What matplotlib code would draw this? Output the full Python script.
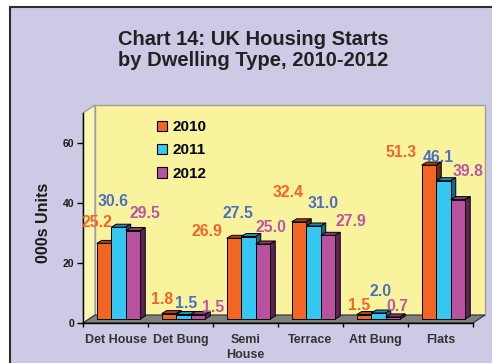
import matplotlib
matplotlib.use("Agg")
import matplotlib.pyplot as plt
from matplotlib.patches import Rectangle, Polygon, Patch
from matplotlib.transforms import ScaledTranslation, IdentityTransform

# ---------------- data ----------------
categories = ["Det House", "Det Bung", "Semi\nHouse", "Terrace", "Att Bung", "Flats"]
years = ["2010", "2011", "2012"]
starts_2010 = [25.2, 1.8, 26.9, 32.4, 1.5, 51.3]
starts_2011 = [30.6, 1.5, 27.5, 31.0, 2.0, 46.1]
starts_2012 = [29.5, 1.5, 25.0, 27.9, 0.7, 39.8]
y_ticks = [0, 20, 40, 60]

# ---------------- style ----------------
series = [starts_2010, starts_2011, starts_2012]
face_colors = ["#F26522", "#33C7F2", "#B8529E"]
top_colors = ["#A9431A", "#1C8DB3", "#8A3A78"]
side_colors = ["#6E2A10", "#0E6A88", "#62205A"]
label_colors = ["#F26522", "#4A6FC2", "#BC55A6"]
# label offsets in pixels (dx, dy up) from each bar's top-front centre
label_offsets = [
    [(-7.5, 22), (-7, 14.6), (-27.5, 7.3), (-10.5, 30), (-5, 9.5), (-27.5, 14)],
    [(-5.3, 27), (2.5, 12.5), (-10.5, 24.5), (9.5, 24), (2, 23), (-5.5, 23.7)],
    [(12, 18), (15, 8.5), (7.5, 18), (23, 15), (4, 11), (10, 29.6)],
]

W, H, DPI = 492, 363, 100
PT = 72.0 / DPI
plt.rcParams["font.family"] = ["Liberation Sans", "DejaVu Sans"]

fig = plt.figure(figsize=(W / DPI, H / DPI), dpi=DPI)
fig.patch.set_facecolor("white")
ident = IdentityTransform()

# outer panel
fig.add_artist(Rectangle((10, -20), 600, H - 7 + 20, transform=ident,
                         facecolor="#CCCAE4", edgecolor="#2E2E2E",
                         linewidth=1.5, zorder=0))

ax = fig.add_axes([83 / W, 40 / H, 390 / W, 210 / H])
ax.set_xlim(0, 6)
ax.set_ylim(0, 70)
ax.patch.set_visible(False)
for s in ["top", "right"]:
    ax.spines[s].set_visible(False)
for s in ["left", "bottom"]:
    ax.spines[s].set_color("black")
    ax.spines[s].set_linewidth(1.0)
    ax.spines[s].set_zorder(6)

# 3D box: back wall, side wall, floor
DX, DY = 12, 8
(x0, y0) = ax.transData.transform((0, 0))
(x1, y1) = ax.transData.transform((6, 70))
back = Polygon([(x0 + DX, y0 + DY), (x1 + DX, y0 + DY), (x1 + DX, y1 + DY), (x0 + DX, y1 + DY)],
               closed=True, transform=ident, facecolor="#FAF39E", edgecolor="#A0A0A0",
               linewidth=1.0, zorder=0.2, clip_on=False)
side = Polygon([(x0, y0), (x0 + DX, y0 + DY), (x0 + DX, y1 + DY), (x0, y1)],
               closed=True, transform=ident, facecolor="#FBF6B2", edgecolor="#A0A0A0",
               linewidth=1.0, zorder=0.3, clip_on=False)
floor = Polygon([(x0, y0), (x1, y0), (x1 + DX, y0 + DY), (x0 + DX, y0 + DY)],
                closed=True, transform=ident, facecolor="#808080", edgecolor="#303030",
                linewidth=0.8, zorder=0.4, clip_on=False)
for p in (back, side, floor):
    ax.add_patch(p)

# bars
bar_trans = ax.transData + ScaledTranslation(3 / DPI, 4 / DPI, fig.dpi_scale_trans)
w = 14.5 / 65
ddx, ddy = 5, 3
for i in range(len(categories)):
    for k, vals in enumerate(series):
        v = vals[i]
        x = i + 0.5 + (k - 1) * w
        z = 3 + i * 0.1 + k * 0.02
        ax.bar(x, v, width=w, transform=bar_trans, color=face_colors[k],
               edgecolor="black", linewidth=0.7, zorder=z, clip_on=False)
        (xl, yb) = bar_trans.transform((x - w / 2, 0))
        (xr, yt) = bar_trans.transform((x + w / 2, v))
        top = Polygon([(xl, yt), (xr, yt), (xr + ddx, yt + ddy), (xl + ddx, yt + ddy)],
                      closed=True, transform=ident, facecolor=top_colors[k],
                      edgecolor="black", linewidth=0.7, zorder=z - 0.005, clip_on=False)
        sd = Polygon([(xr, yb), (xr + ddx, yb + ddy), (xr + ddx, yt + ddy), (xr, yt)],
                     closed=True, transform=ident, facecolor=side_colors[k],
                     edgecolor="black", linewidth=0.7, zorder=z - 0.005, clip_on=False)
        ax.add_patch(top)
        ax.add_patch(sd)
        odx, ody = label_offsets[k][i]
        ax.annotate(f"{v:.1f}", xy=(x, v), xycoords=bar_trans,
                    xytext=(odx * PT, (ody - 5.5) * PT), textcoords="offset points",
                    ha="center", va="baseline", fontsize=11.3, fontweight="bold",
                    color=label_colors[k], zorder=10, annotation_clip=False)

# axes ticks
ax.set_yticks(y_ticks)
ax.set_yticklabels([str(t) for t in y_ticks], fontsize=7.5, fontweight="bold", color="#1A1A1A")
ax.tick_params(axis="y", length=4.3, width=1.0, pad=2.2, direction="out")
ax.set_xticks(range(len(categories) + 1))
ax.set_xticklabels([""] * (len(categories) + 1))
ax.tick_params(axis="x", which="major", length=3, width=1.0, direction="out")
ax.set_xticks([i + 0.5 for i in range(len(categories))], minor=True)
ax.set_xticklabels(categories, minor=True, fontsize=9, fontweight="bold", color="#333333")
ax.tick_params(axis="x", which="minor", length=0, pad=8.0)
for t in ax.get_xticklabels(minor=True):
    t.set_linespacing(1.3)

ax.set_ylabel("000s Units", fontsize=11.5, fontweight="bold", color="#1A1A1A", va="center", ha="center")
ax.yaxis.set_label_coords(-39 / 390, 100 / 210)

# legend
handles = [Patch(facecolor=c, edgecolor="black", linewidth=0.8) for c in face_colors]
ax.legend(handles, years, loc="upper left", bbox_to_anchor=(157, H - 120),
          bbox_transform=ident, frameon=False,
          prop={"weight": "bold", "size": 11}, handlelength=0.65, handleheight=0.65,
          handletextpad=0.35, labelspacing=0.62, borderpad=0, borderaxespad=0)

fig.text(253 / W, 1 - 30 / H, "Chart 14: UK Housing Starts\nby Dwelling Type, 2010-2012",
         ha="center", va="top", fontsize=14.5, fontweight="bold", color="#222222",
         linespacing=1.14)

fig.savefig("out.png", dpi=DPI)
